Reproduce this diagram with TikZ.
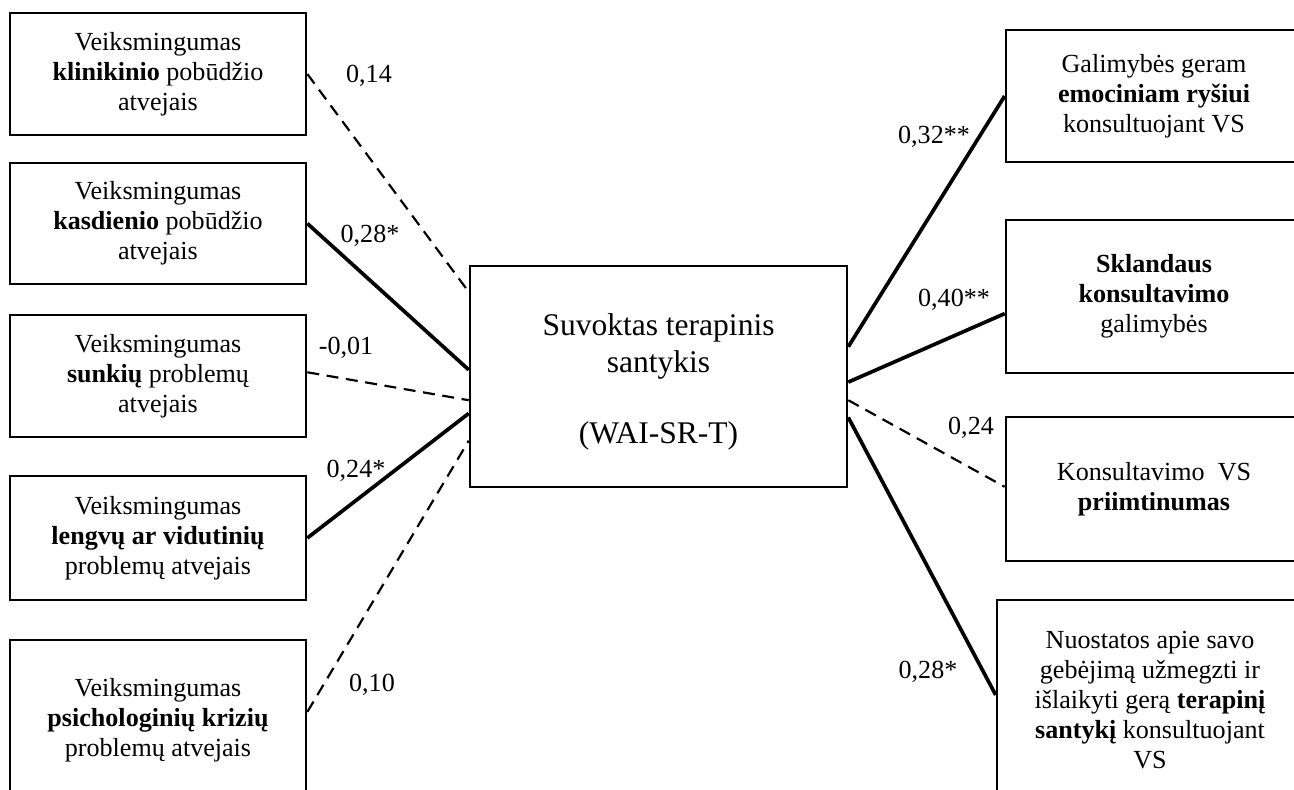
\documentclass[tikz,border=0pt]{standalone}
\usepackage{fontspec}
\setmainfont{Liberation Serif}
\usetikzlibrary{calc}

\begin{document}
\begin{tikzpicture}[x=0.46pt,y=-0.46pt,
 every node/.style={align=center,font=\fontsize{12}{13.8}\selectfont},
 box/.style={draw,line width=1.2pt,inner sep=2pt},
 lbox/.style={box,minimum width=136.2pt},
 rbox/.style={box,minimum width=136.2pt},
 coef/.style={inner sep=1pt},
 sig/.style={line width=1.7pt},
 ns/.style={line width=1pt,dash pattern=on 5.5pt off 3.5pt}]
\useasboundingbox (0,0) rectangle (1294,789);
\clip (0,0) rectangle (1294,789);
% predictors
\node[lbox,minimum height=56.1pt] (klin) at (158,74) {Veiksmingumas\\
\textbf{klinikinio} pobūdžio\\atvejais};
\node[lbox,minimum height=55.7pt] (kasd) at (158,223.5) {Veiksmingumas\\
\textbf{kasdienio} pobūdžio\\atvejais};
\node[lbox,minimum height=56.1pt] (sunk) at (158,376) {Veiksmingumas\\
\textbf{sunkių} problemų\\atvejais};
\node[lbox,minimum height=57pt] (leng) at (158,538) {Veiksmingumas\\
\textbf{lengvų ar vidutinių}\\problemų atvejais};
\node[lbox,minimum height=73.6pt] (kriz) at (158,720) {Veiksmingumas\\
\textbf{psichologinių krizių}\\problemų atvejais};
% central construct
\node[box,minimum width=173.4pt,minimum height=101.7pt,
 font=\fontsize{14.5}{17}\selectfont] (sant) at (658.5,376.5) {\rule{0pt}{15pt}Suvoktas terapinis\\
santykis\\[15.5pt](WAI-SR-T)};
% outcomes
\node[rbox,minimum height=60.7pt] (emoc) at (1154,96) {Galimybės geram\\
\textbf{emociniam ryšiui}\\konsultuojant VS};
\node[rbox,minimum height=70.4pt] (skla) at (1154,296.5) {\textbf{Sklandaus}\\
\textbf{konsultavimo}\\galimybės};
\node[rbox,minimum height=66.2pt] (prii) at (1154,489) {Konsultavimo \ VS\\
\textbf{priimtinumas}};
\node[rbox,minimum width=140.8pt,minimum height=92pt] (nuos) at (1150,700) {Nuostatos apie savo\\
gebėjimą užmegzti ir\\išlaikyti gerą \textbf{terapinį}\\
\textbf{santykį} konsultuojant\\VS};
% paths
\draw[ns] (klin.east) -- ($(sant.north west)!0.122!(sant.south west)$);
\draw[sig] (kasd.east) -- ($(sant.north west)!0.47!(sant.south west)$);
\draw[ns] ($(sunk.north east)!0.47!(sunk.south east)$) -- ($(sant.north west)!0.606!(sant.south west)$);
\draw[sig] (leng.east) -- ($(sant.north west)!0.665!(sant.south west)$);
\draw[ns] ($(kriz.north east)!0.45!(kriz.south east)$) -- ($(sant.north west)!0.787!(sant.south west)$);
\draw[sig] ($(sant.north east)!0.367!(sant.south east)$) -- (emoc.west);
\draw[sig] ($(sant.north east)!0.525!(sant.south east)$) -- ($(skla.north west)!0.61!(skla.south west)$);
\draw[ns] ($(sant.north east)!0.606!(sant.south east)$) -- ($(prii.north west)!0.485!(prii.south west)$);
\draw[sig] ($(sant.north east)!0.683!(sant.south east)$) -- ($(nuos.north west)!0.475!(nuos.south west)$);
% coefficients
\node[coef] (c1) at (369,76) {0,14};
\node[coef] (c2) at (370,236) {0,28*};
\node[coef] (c3) at (346,348) {-0,01};
\node[coef] (c4) at (356,471) {0,24*};
\node[coef] (c5) at (372,685) {0,10};
\node[coef] (c6) at (934,137) {0,32**};
\node[coef] (c7) at (954,300) {0,40**};
\node[coef] (c8) at (971,428) {0,24};
\node[coef] (c9) at (928,672) {0,28*};
\end{tikzpicture}
\end{document}
